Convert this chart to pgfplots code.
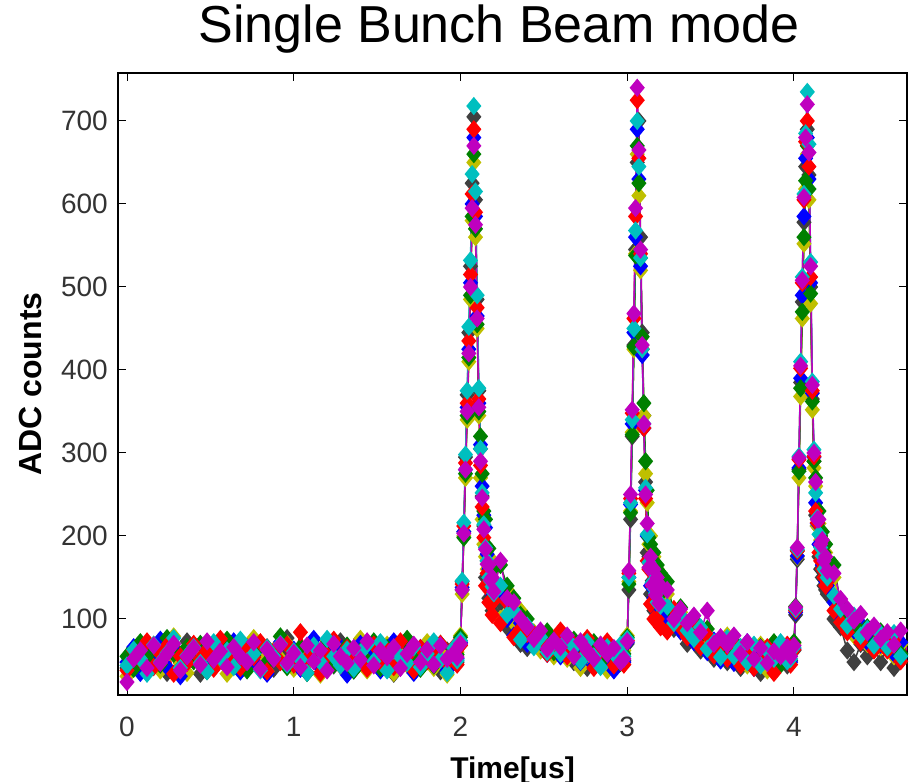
\documentclass[border=0pt]{standalone}
\usepackage{fontspec}
\setmainfont{Liberation Sans}
\usepackage{pgfplots}
\usepackage{pgfplotstable}
\pgfplotsset{compat=1.18}
\definecolor{mk}{rgb}{0.25,0.25,0.25}
\definecolor{my}{rgb}{0.75,0.75,0}
\definecolor{mb}{rgb}{0,0,1}
\definecolor{mg}{rgb}{0,0.5,0}
\definecolor{mr}{rgb}{1,0,0}
\definecolor{mc}{rgb}{0,0.75,0.75}
\definecolor{mm}{rgb}{0.75,0,0.75}
\pgfplotstableread{
x k y b g r c m
0.00 41 31 48 55 38 44 24
0.04 58 48 66 40 62 63 52
0.08 38 63 35 72 51 52 62
0.12 70 44 58 52 73 34 41
0.16 51 69 51 65 42 69 68
0.20 62 38 75 45 58 48 47
0.24 35 56 42 77 68 59 58
0.28 66 79 62 58 34 77 70
0.32 47 47 31 41 55 41 38
0.36 73 35 54 66 47 56 55
0.40 54 66 69 49 70 66 65
0.44 34 54 47 70 52 47 45
0.48 65 72 38 37 63 37 73
0.52 49 41 65 61 40 72 51
0.56 69 59 55 54 76 54 61
0.60 42 34 44 75 49 62 42
0.64 61 51 73 44 59 42 66
0.68 37 68 37 63 41 75 55
0.72 55 45 61 38 66 49 48
0.76 72 77 49 56 54 58 72
0.80 48 55 68 69 72 38 40
0.84 66 37 34 48 37 65 63
0.88 40 62 56 59 61 55 52
0.92 59 52 72 79 48 70 69
0.96 77 70 45 42 69 45 47
1.00 47 40 63 54 45 61 59
1.04 56 58 40 66 84 51 42
1.08 35 47 52 35 52 35 68
1.12 68 65 76 62 63 68 49
1.16 52 33 41 51 35 48 62
1.20 62 73 59 72 56 76 38
1.24 44 49 49 45 75 55 70
1.28 73 61 66 55 44 44 55
1.32 51 42 33 68 65 63 47
1.36 38 54 55 38 51 40 65
1.40 63 76 70 61 59 59 51
1.44 55 38 47 49 40 69 73
1.48 70 63 62 73 69 49 44
1.52 45 48 38 41 48 72 62
1.56 65 69 51 65 62 38 54
1.60 34 35 73 56 42 62 66
1.64 58 56 42 47 73 54 41
1.68 75 45 58 76 55 47 58
1.72 49 66 35 52 38 66 69
1.76 41 51 65 40 65 42 48
1.80 66 72 54 63 49 58 63
1.84 54 41 45 44 58 73 45
1.88 37 59 69 70 70 51 68
1.92 62 33 38 51 47 35 52
1.96 48 52 55 58 66 65 59
1.98 48 60 52 57 45 50 54
2.00 70 80 72 78 68 74 70
2.01 145 130 138 135 142 146 135
2.02 205 200 205 198 212 216 203
2.03 295 270 280 275 288 298 280
2.04 370 340 355 345 360 375 350
2.05 445 410 425 415 435 452 420
2.06 525 485 505 490 515 532 500
2.07 625 580 600 585 612 636 595
2.08 705 650 680 660 690 718 670
2.09 605 560 585 570 590 615 575
2.10 485 450 465 455 475 490 462
2.11 375 345 360 350 365 378 355
2.12 305 270 310 320 285 305 290
2.13 248 220 260 275 235 252 246
2.14 212 190 225 230 198 214 208
2.15 150 175 210 220 140 186 184
2.16 170 160 178 185 155 170 166
2.17 125 175 160 185 120 150 165
2.18 147 150 145 162 138 146 147
2.19 110 165 130 160 105 139 150
2.20 128 140 130 145 122 131 133
2.24 120 100 135 165 95 140 170
2.28 90 135 100 140 120 105 125
2.32 85 95 80 125 78 110 120
2.36 70 110 95 105 88 75 100
2.40 65 85 70 100 82 92 90
2.44 70 84 68 78 82 66 76
2.48 82 62 80 72 75 78 86
2.52 60 76 58 85 58 60 64
2.56 68 55 72 60 66 72 74
2.60 58 80 55 83 86 58 66
2.64 73 52 72 62 55 75 80
2.68 48 72 62 75 69 66 55
2.72 66 41 48 52 51 49 73
2.76 41 65 69 66 77 72 62
2.80 62 48 44 72 41 55 52
2.84 51 69 63 48 62 42 69
2.88 69 38 54 63 73 66 58
2.92 47 62 38 55 44 58 65
2.96 59 52 61 47 66 69 48
2.98 50 62 48 58 45 55 52
3.00 70 80 72 78 74 76 73
3.01 135 145 150 142 155 150 158
3.02 220 230 238 228 245 240 250
3.03 320 325 335 322 348 340 352
3.04 430 425 445 428 462 450 468
3.05 545 540 560 538 585 568 595
3.06 650 660 690 670 725 700 740
3.07 700 610 630 625 655 645 665
3.08 560 520 525 535 540 535 545
3.09 445 425 418 440 425 425 430
3.10 345 345 330 360 330 335 335
3.11 265 275 255 290 245 258 250
3.12 180 240 200 255 170 202 215
3.13 175 190 170 198 160 168 162
3.14 130 200 140 190 118 160 175
3.15 146 158 143 162 140 144 141
3.16 110 175 125 180 100 137 160
3.17 131 140 129 142 128 131 129
3.18 115 160 105 165 100 120 150
3.19 120 127 118 128 118 121 119
3.20 95 145 110 155 90 116 140
3.24 90 130 100 145 85 115 135
3.28 88 98 110 106 112 95 100
3.32 96 108 85 114 90 104 112
3.36 70 82 94 92 78 86 95
3.40 84 92 72 98 94 76 104
3.44 62 70 86 80 66 90 84
3.48 75 80 60 88 80 64 110
3.52 52 60 74 66 56 72 70
3.56 66 55 50 72 68 54 78
3.60 48 80 75 66 52 77 69
3.64 66 49 47 73 69 55 80
3.68 41 66 63 52 44 66 58
3.72 62 44 72 63 61 48 72
3.76 51 58 41 47 41 69 52
3.80 35 69 59 66 52 44 65
3.84 58 38 49 55 66 62 47
3.88 47 55 38 72 35 52 61
3.92 66 48 62 45 58 72 55
3.96 44 63 52 58 69 49 66
3.98 50 58 48 60 45 52 55
4.00 62 70 64 72 63 66 68
4.01 105 112 108 115 110 112 114
4.02 172 175 176 182 182 184 186
4.03 280 270 282 278 292 296 294
4.04 385 368 390 378 402 410 405
4.05 482 462 490 470 505 512 508
4.06 578 552 585 560 605 612 608
4.07 645 618 655 628 675 685 680
4.08 690 660 680 670 700 735 720
4.09 635 605 630 618 645 672 662
4.10 500 480 505 492 512 530 525
4.11 365 352 372 362 375 386 382
4.12 290 282 295 290 296 304 300
4.13 225 260 240 270 230 252 265
4.14 212 212 215 220 216 222 220
4.15 175 215 190 230 180 202 220
4.16 160 195 180 200 170 186 190
4.17 150 195 165 205 160 176 195
4.18 140 175 165 180 150 160 170
4.19 135 180 145 190 140 158 175
4.20 130 160 140 165 145 150 158
4.24 100 150 120 165 110 128 155
4.28 90 110 102 118 96 112 124
4.32 62 98 110 106 84 92 112
4.36 48 80 86 96 100 104 98
4.40 70 88 94 84 72 80 106
4.44 55 70 72 90 86 88 84
4.48 66 74 80 70 62 68 92
4.52 48 66 69 85 80 82 76
4.56 66 77 80 69 62 66 84
4.60 41 55 58 77 75 83 69
4.64 58 69 72 58 49 55 86
4.68 47 47 52 66 66 72 63
4.72 55 58 63 52 72 48 75
}\data

\begin{document}
\begin{tikzpicture}
\begin{axis}[
  at={(0pt,0pt)}, anchor=south west,
  scale only axis, width=789pt, height=622pt,
  xmin=-0.054, xmax=4.678, ymin=8.4, ymax=757.8,
  xtick={0,1,2,3,4}, ytick={100,200,300,400,500,600,700},
  tick align=inside, xtick pos=both, ytick pos=both,
  major tick length=8pt,
  tick style={black, line width=1pt},
  axis line style={black, line width=1.2pt},
  /pgf/number format/assume math mode=true,
  ticklabel style={font=\fontsize{28}{30}\selectfont, text=black!80, inner sep=0pt},
  xticklabel style={yshift=-22pt},
  yticklabel style={xshift=-10pt},
  xlabel={Time[us]}, ylabel={ADC counts},
  xlabel style={at={(axis description cs:0.5,-0.0997)}, anchor=north, inner sep=0pt, font=\fontsize{30}{32}\selectfont\bfseries},
  ylabel style={at={(axis description cs:-0.0963,0.5)}, anchor=south, inner sep=0pt, font=\fontsize{32}{34}\selectfont\bfseries},
  title={Single Bunch Beam mode},
  title style={at={(axis description cs:0.483,1.0386)}, anchor=base, inner sep=0pt, font=\fontsize{52}{56}\selectfont},
  every axis plot/.append style={line width=1.5pt, mark=diamond*, mark size=8pt, mark options={solid, xscale=1.1}},
]
\addplot[color=mk] table[x=x, y=k] {\data};
\addplot[color=my] table[x=x, y=y] {\data};
\addplot[color=mb] table[x=x, y=b] {\data};
\addplot[color=mg] table[x=x, y=g] {\data};
\addplot[color=mr] table[x=x, y=r] {\data};
\addplot[color=mc] table[x=x, y=c] {\data};
\addplot[color=mm] table[x=x, y=m] {\data};
\end{axis}
\pgfresetboundingbox
\useasboundingbox (-118pt,-86pt) rectangle (791pt,695pt);
\end{tikzpicture}
\end{document}
